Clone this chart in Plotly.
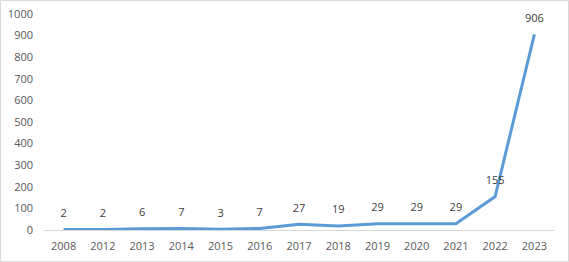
import plotly.graph_objects as go

years = ["2008", "2012", "2013", "2014", "2015", "2016", "2017", "2018", "2019", "2020", "2021", "2022", "2023"]
counts = [2, 2, 6, 7, 3, 7, 27, 19, 29, 29, 29, 155, 906]
y_ticks = [0, 100, 200, 300, 400, 500, 600, 700, 800, 900, 1000]

W, H = 569, 262
ml, mr, mt, mb = 44, 15, 14, 32
pw, ph = W - ml - mr, H - mt - mb

fig = go.Figure()
fig.add_trace(go.Scatter(x=years, y=counts, mode="lines+markers+text",
                         line=dict(color="#5B9BD5", width=3),
                         marker=dict(size=14, opacity=0, color="#5B9BD5"),
                         text=[str(v) for v in counts], textposition="top center",
                         textfont=dict(family="Open Sans", size=11, color="#404040"),
                         cliponaxis=False, hoverinfo="skip"))

fig.add_shape(type="rect", xref="paper", yref="paper",
              x0=-(ml - 0.5) / pw, x1=(W - ml - 0.5) / pw,
              y0=-(mb - 0.5) / ph, y1=(H - mb - 0.5) / ph,
              line=dict(color="#D9D9D9", width=1), fillcolor="rgba(0,0,0,0)", layer="below")

fig.update_layout(
    width=W, height=H,
    margin=dict(l=ml, r=mr, t=mt, b=mb, autoexpand=False),
    paper_bgcolor="white", plot_bgcolor="white",
    showlegend=False,
    font=dict(family="Open Sans", size=11, color="#595959"),
    xaxis=dict(type="category", showgrid=False, showline=True, linecolor="#D9D9D9",
               linewidth=1, ticks="", zeroline=False, ticklabelstandoff=6, automargin=False,
               range=[-0.5, len(years) - 0.5]),
    yaxis=dict(range=[0, 1000], tickvals=y_ticks, showgrid=False, showline=False,
               zeroline=False, ticks="", ticklabelstandoff=10, automargin=False),
)

fig.write_html("out.html")
